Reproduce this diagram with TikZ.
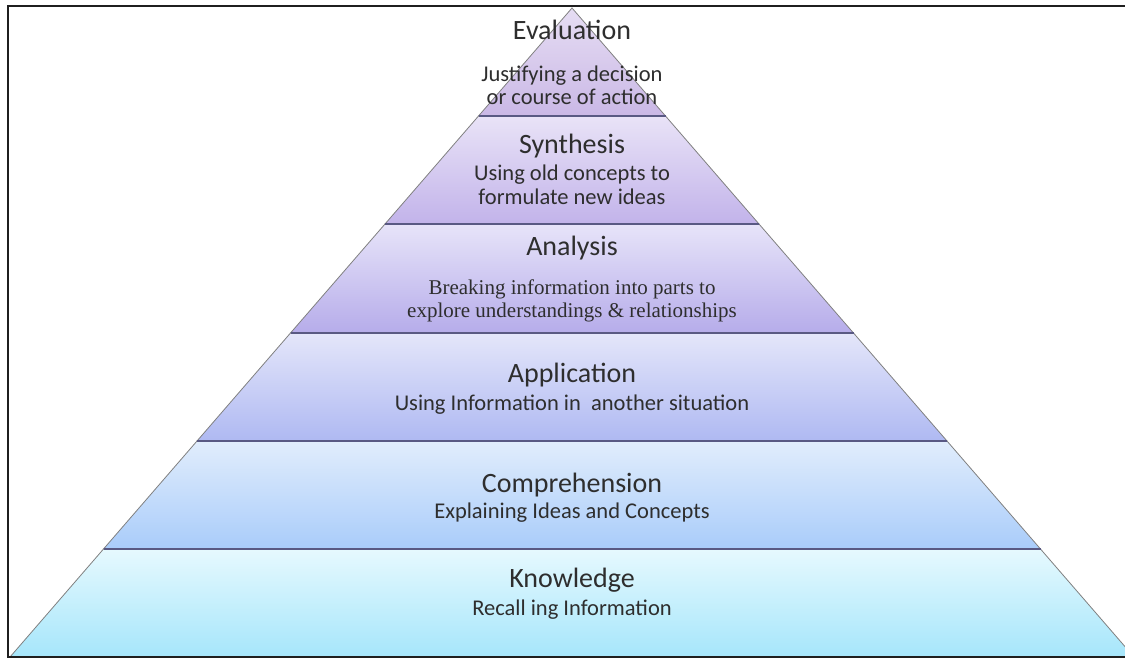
\documentclass[tikz,border=0pt]{standalone}
\usepackage{fontspec}
\setmainfont{Carlito}
\newfontfamily\camfont{Liberation Serif}
\begin{document}
\begin{tikzpicture}[x=1pt,y=-1pt,
  tier/.style={draw=black!50, line width=0.8pt},
  sep/.style={draw=black!45!blue!30!gray, line width=1.4pt},
  ttl/.style={anchor=base, inner sep=0pt, text=black!82, font=\fontsize{28}{30}\selectfont},
  dsc/.style={anchor=base, inner sep=0pt, text=black!82, font=\fontsize{22.5}{24}\selectfont},
  dsr/.style={anchor=base, inner sep=0pt, text=black!82, font=\camfont\fontsize{21}{23}\selectfont}]
\useasboundingbox (0,0) rectangle (1125,659);
\definecolor{evT}{HTML}{E6DDF3}\definecolor{evB}{HTML}{CAB8E6}
\definecolor{syT}{HTML}{E9E3F7}\definecolor{syB}{HTML}{C2B3EA}
\definecolor{anT}{HTML}{E7E4F9}\definecolor{anB}{HTML}{B6ACEA}
\definecolor{apT}{HTML}{E4E6FA}\definecolor{apB}{HTML}{AFB9F2}
\definecolor{coT}{HTML}{E1EDFC}\definecolor{coB}{HTML}{A9CCFA}
\definecolor{knT}{HTML}{E6F9FE}\definecolor{knB}{HTML}{A6E6FB}
% tiers (apex 572,8; half width = 0.866*(y-8))
\path[tier, top color=knT, bottom color=knB] (103.5,549) -- (1040.5,549) -- (1134,657) -- (10,657) -- cycle;
\path[tier, top color=coT, bottom color=coB] (197,441) -- (947,441) -- (1040.5,549) -- (103.5,549) -- cycle;
\path[tier, top color=apT, bottom color=apB] (290.5,333) -- (853.5,333) -- (947,441) -- (197,441) -- cycle;
\path[tier, top color=anT, bottom color=anB] (385,224) -- (759,224) -- (853.5,333) -- (290.5,333) -- cycle;
\path[tier, top color=syT, bottom color=syB] (478.5,116) -- (665.5,116) -- (759,224) -- (385,224) -- cycle;
\path[tier, top color=evT, bottom color=evB] (572,8) -- (665.5,116) -- (478.5,116) -- cycle;
\draw[sep] (478.5,116) -- (665.5,116);
\draw[sep] (385,224) -- (759,224);
\draw[sep] (290.5,333) -- (853.5,333);
\draw[sep] (197,441) -- (947,441);
\draw[sep] (103.5,549) -- (1040.5,549);
% texts
\node[ttl] (evt) at (572,39) {Evaluation};
\node[dsc] (evd1) at (572,81) {Justifying a decision};
\node[dsc] (evd2) at (572,104) {or course of action};
\node[ttl] (syt) at (572,153) {Synthesis};
\node[dsc] (syd1) at (572,180) {Using old concepts to};
\node[dsc] (syd2) at (572,204) {formulate new ideas};
\node[ttl] (ant) at (572,255) {Analysis};
\node[dsr] (and1) at (572,294) {Breaking information into parts to};
\node[dsr] (and2) at (572,317) {explore understandings \& relationships};
\node[ttl] (apt) at (572,382) {Application};
\node[dsc] (apd) at (572,410) {Using Information in\ \ another situation};
\node[ttl] (cot) at (572,492) {Comprehension};
\node[dsc] (cod) at (572,518) {Explaining Ideas and Concepts};
\node[ttl] (knt) at (572,587) {Knowledge};
\node[dsc] (knd) at (572,615) {Recall ing Information};
% frame
\draw[line width=2.2pt, draw=black!88] (8,6) rectangle (1150,657);
\end{tikzpicture}
\end{document}
